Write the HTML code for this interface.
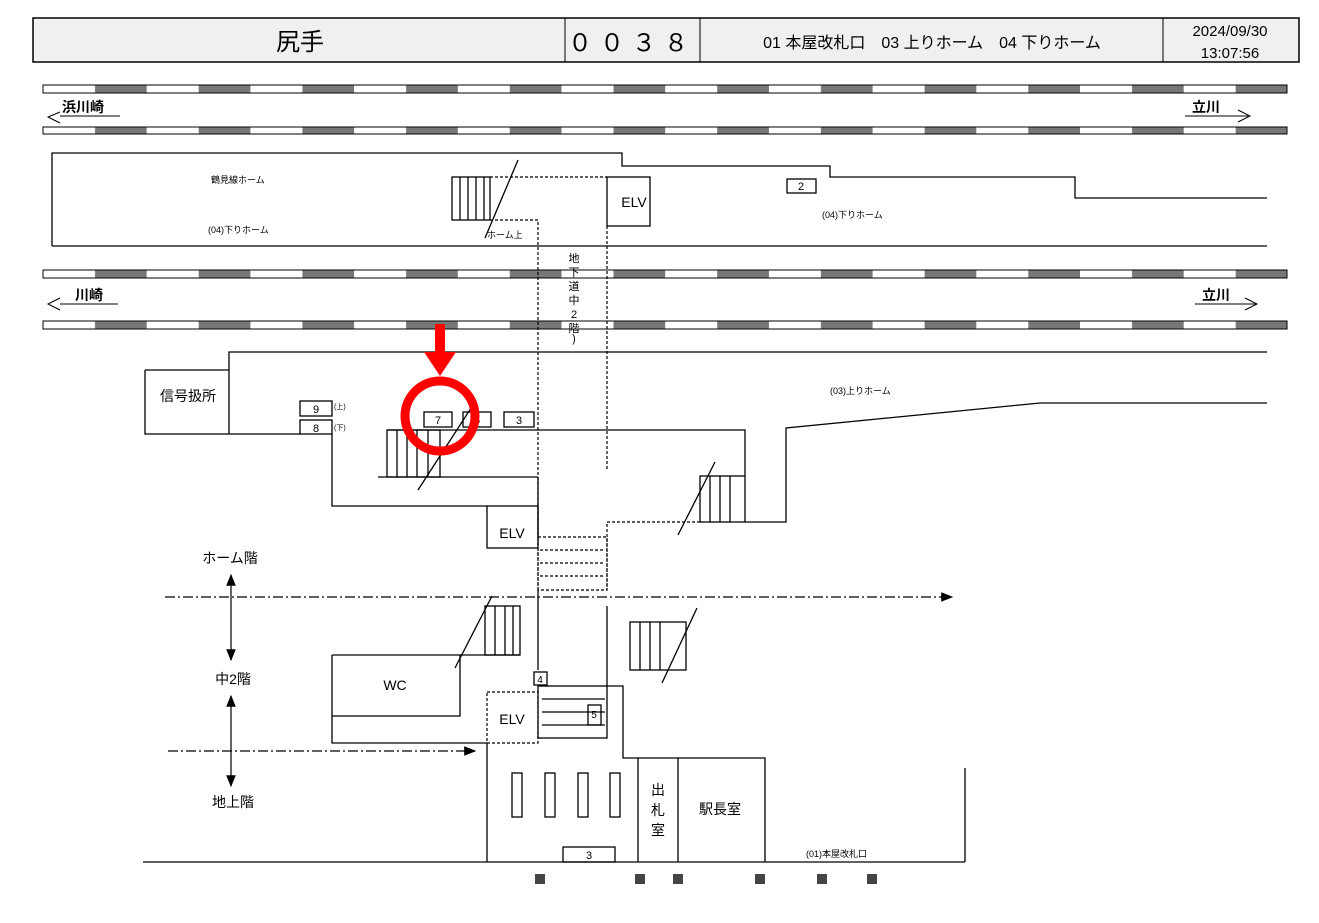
<!DOCTYPE html>
<html><head><meta charset="utf-8"><style>
body{margin:0;background:#fff;}
svg{display:block;font-family:"Liberation Sans","Noto Sans CJK JP",sans-serif;}
</style></head><body>
<svg width="1319" height="923" viewBox="0 0 1319 923" xmlns="http://www.w3.org/2000/svg">
<defs>
<pattern id="trk" x="43" y="0" width="103.7" height="10" patternUnits="userSpaceOnUse">
<rect x="0" y="0" width="52" height="10" fill="#fff"/>
<rect x="52" y="0" width="51.7" height="10" fill="#777"/>
</pattern>
<marker id="ah" markerWidth="10" markerHeight="10" refX="9" refY="5" orient="auto-start-reverse"><path d="M0,1 L10,5 L0,9 z" fill="#000"/></marker>
</defs>
<rect x="33" y="18" width="1266" height="44" fill="#f0f0f0" stroke="#000" stroke-width="1.5"/>
<line x1="565" y1="18" x2="565" y2="62" stroke="#000"/>
<line x1="700" y1="18" x2="700" y2="62" stroke="#000"/>
<line x1="1163" y1="18" x2="1163" y2="62" stroke="#000"/>
<text x="300" y="50" font-size="24" text-anchor="middle">尻手</text>
<text x="632" y="51" font-size="24" text-anchor="middle" letter-spacing="8">００３８</text>
<text x="932" y="48" font-size="16" text-anchor="middle">01 本屋改札口　03 上りホーム　04 下りホーム</text>
<text x="1230" y="36" font-size="15" text-anchor="middle">2024/09/30</text>
<text x="1230" y="58" font-size="15" text-anchor="middle">13:07:56</text>
<g stroke="#000" stroke-width="1">
<rect x="43" y="85" width="1244" height="8" fill="url(#trk)"/>
<rect x="43" y="127" width="1244" height="7" fill="url(#trk)"/>
<rect x="43" y="270" width="1244" height="8" fill="url(#trk)"/>
<rect x="43" y="321" width="1244" height="8" fill="url(#trk)"/>
</g>
<g font-size="14" font-weight="bold">
<text x="62" y="112">浜川崎</text><line x1="60" y1="116" x2="120" y2="116" stroke="#000"/>
<path d="M60,112 L48,117 L60,123" fill="none" stroke="#000"/>
<text x="1192" y="112">立川</text><line x1="1185" y1="116" x2="1248" y2="116" stroke="#000"/>
<path d="M1238,110 L1250,116 L1238,122" fill="none" stroke="#000"/>
<text x="75" y="300">川崎</text><line x1="60" y1="304" x2="118" y2="304" stroke="#000"/>
<path d="M60,298 L48,304 L60,310" fill="none" stroke="#000"/>
<text x="1202" y="300">立川</text><line x1="1195" y1="304" x2="1256" y2="304" stroke="#000"/>
<path d="M1245,298 L1257,304 L1245,310" fill="none" stroke="#000"/>
</g>
<g fill="none" stroke="#000" stroke-width="1.3">
<polyline points="52,246 52,153 622,153 622,166 830,166 830,177 1075,177 1075,198 1267,198"/>
<line x1="52" y1="246" x2="1267" y2="246"/>
<rect x="607" y="177" width="43" height="49"/>
<rect x="787" y="179" width="29" height="14"/>
<rect x="452" y="177" width="38" height="43"/>
<line x1="460" y1="177" x2="460" y2="220"/><line x1="468" y1="177" x2="468" y2="220"/><line x1="476" y1="177" x2="476" y2="220"/><line x1="484" y1="177" x2="484" y2="220"/>
<line x1="485" y1="238" x2="518" y2="160"/>
<polyline points="229,434 229,352 1267,352"/>
<polyline points="145,370 229,370"/>
<polyline points="145,370 145,434 229,434 300,434"/>
<polyline points="332,434 332,506 487,506"/>
<polyline points="1267,403 1040,403 786,428 786,522 745,522"/>
<polyline points="387,430 745,430 745,476"/>
<line x1="378" y1="477" x2="538" y2="477"/>
<line x1="538" y1="477" x2="538" y2="537"/>
<rect x="387" y="430" width="53" height="47"/>
<line x1="397" y1="430" x2="397" y2="477"/><line x1="407" y1="430" x2="407" y2="477"/><line x1="417" y1="430" x2="417" y2="477"/><line x1="428" y1="430" x2="428" y2="477"/>
<line x1="418" y1="490" x2="473" y2="405"/>
<rect x="700" y="476" width="45" height="46"/>
<line x1="710" y1="476" x2="710" y2="522"/><line x1="720" y1="476" x2="720" y2="522"/><line x1="730" y1="476" x2="730" y2="522"/>
<line x1="678" y1="535" x2="715" y2="462"/>
<rect x="487" y="506" width="51" height="42"/>
<rect x="300" y="401" width="32" height="15"/><rect x="300" y="420" width="32" height="14"/>
<rect x="424" y="412" width="28" height="15"/><rect x="463" y="412" width="28" height="15"/><rect x="504" y="412" width="30" height="15"/>
<rect x="485" y="606" width="35" height="49"/>
<line x1="495" y1="606" x2="495" y2="655"/><line x1="505" y1="606" x2="505" y2="655"/><line x1="513" y1="606" x2="513" y2="655"/>
<line x1="455" y1="668" x2="492" y2="596"/>
<line x1="460" y1="655" x2="520" y2="655"/>
<rect x="630" y="622" width="56" height="48"/>
<line x1="640" y1="622" x2="640" y2="670"/><line x1="650" y1="622" x2="650" y2="670"/><line x1="660" y1="622" x2="660" y2="670"/>
<line x1="662" y1="683" x2="697" y2="608"/>
<polyline points="332,655 460,655 460,716 332,716"/>
<polyline points="332,655 332,743 487,743"/>
<line x1="538" y1="590" x2="538" y2="670"/>
<polyline points="607,686 623,686 623,758 638,758"/>
<line x1="607" y1="606" x2="607" y2="686"/>
<rect x="538" y="686" width="69" height="52"/>
<line x1="542" y1="699" x2="605" y2="699"/><line x1="542" y1="712" x2="605" y2="712"/><line x1="542" y1="725" x2="605" y2="725"/>
<rect x="534" y="672" width="13" height="13"/>
<rect x="588" y="705" width="13" height="20"/>
<line x1="487" y1="743" x2="487" y2="862"/>
<line x1="143" y1="862" x2="965" y2="862"/>
<line x1="965" y1="768" x2="965" y2="862"/>
<polyline points="638,862 638,758 765,758 765,862"/>
<line x1="678" y1="758" x2="678" y2="862"/>
<rect x="512" y="773" width="10" height="44"/><rect x="545" y="773" width="10" height="44"/><rect x="578" y="773" width="10" height="44"/><rect x="610" y="773" width="10" height="44"/>
<rect x="563" y="847" width="52" height="15"/>
</g>
<g fill="none" stroke="#000" stroke-width="1.2" stroke-dasharray="3,2">
<polyline points="490,177 607,177"/>
<polyline points="490,220 538,220 538,590"/>
<line x1="607" y1="226" x2="607" y2="470"/>
<polyline points="700,522 607,522 607,590"/>
<rect x="538" y="537" width="69" height="53"/>
<line x1="540" y1="550" x2="605" y2="550"/><line x1="540" y1="563" x2="605" y2="563"/><line x1="540" y1="576" x2="605" y2="576"/>
<rect x="487" y="692" width="51" height="51"/>
</g>
<g stroke="#000" stroke-width="1.2" fill="none">
<line x1="165" y1="597" x2="952" y2="597" stroke-dasharray="10,3,2,3" marker-end="url(#ah)"/>
<line x1="168" y1="751" x2="475" y2="751" stroke-dasharray="10,3,2,3" marker-end="url(#ah)"/>
<line x1="231" y1="575" x2="231" y2="660" marker-start="url(#ah)" marker-end="url(#ah)"/>
<line x1="231" y1="696" x2="231" y2="786" marker-start="url(#ah)" marker-end="url(#ah)"/>
</g>
<g fill="#444">
<rect x="535" y="874" width="10" height="10"/><rect x="635" y="874" width="10" height="10"/><rect x="673" y="874" width="10" height="10"/>
<rect x="755" y="874" width="10" height="10"/><rect x="817" y="874" width="10" height="10"/><rect x="867" y="874" width="10" height="10"/>
</g>
<g font-size="14" text-anchor="middle">
<text x="634" y="207">ELV</text><text x="512" y="538">ELV</text><text x="512" y="724">ELV</text>
<text x="395" y="690">WC</text>
<text x="188" y="401">信号扱所</text>
<text x="230" y="563">ホーム階</text><text x="233" y="684">中2階</text><text x="233" y="807">地上階</text>
<text x="720" y="814">駅長室</text>
<text x="658" y="795">出</text><text x="658" y="815">札</text><text x="658" y="835">室</text>
</g>
<g font-size="11" text-anchor="middle">
<text x="801" y="190">2</text><text x="316" y="413">9</text><text x="316" y="432">8</text>
<text x="438" y="424">7</text><text x="477" y="424">6</text><text x="519" y="424">3</text>
<text x="589" y="859">3</text><text x="540" y="683" font-size="10">4</text>
<text x="594" y="718" font-size="10">5</text>
</g>
<g font-size="9">
<text x="211" y="183">鶴見線ホーム</text>
<text x="208" y="233">(04)下りホーム</text>
<text x="822" y="218">(04)下りホーム</text>
<text x="487" y="238">ホーム上</text>
<text x="830" y="394">(03)上りホーム</text>
<text x="806" y="857">(01)本屋改札口</text>
<text x="334" y="409" font-size="7">(上)</text><text x="334" y="430" font-size="7">(下)</text>
</g>
<g font-size="11" text-anchor="middle">
<text x="574" y="262">地</text><text x="574" y="276">下</text><text x="574" y="290">道</text><text x="574" y="304">中</text><text x="574" y="318">2</text><text x="574" y="332">階</text><text x="574" y="342">)</text>
</g>
<rect x="435" y="324" width="10" height="30" fill="#f00"/>
<path d="M424,352 L456,352 L440,376 z" fill="#f00"/>
<circle cx="440" cy="416" r="35" fill="none" stroke="#f00" stroke-width="9"/>
</svg>
</body></html>
